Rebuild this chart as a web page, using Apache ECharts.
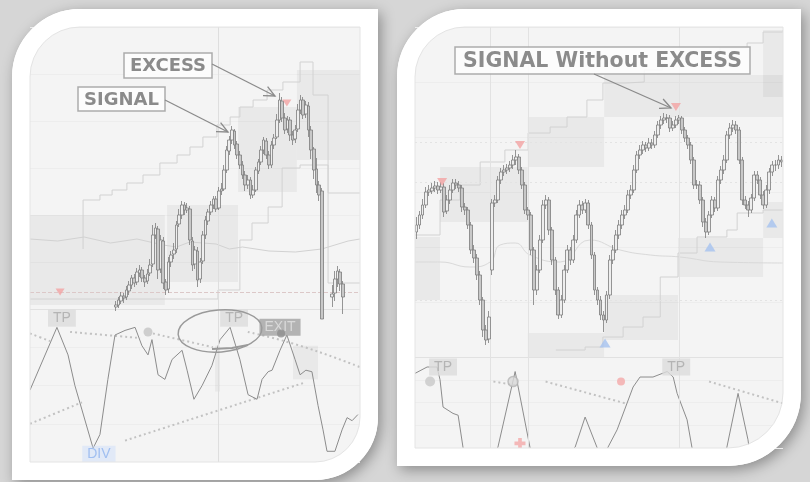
<!DOCTYPE html>
<html>
<head>
<meta charset="utf-8">
<title>SIGNAL / EXCESS</title>
<script src="https://cdn.jsdelivr.net/npm/echarts@6/dist/echarts.min.js"></script>
<style>
  html, body { margin: 0; padding: 0; background: #d6d6d6; }
  #main { width: 810px; height: 482px; }
</style>
</head>
<body>
<div id="main"></div>
<script>
// ---- left panel: price bars [open, close, low, high], x = bar index ----
const leftFirstBar = 32;
const leftCandles = [
  [2,4,-2,8],[4,9,1,12],[8,13,5,17],[13,11,6,16],[12,19,9,23],[18,24,14,28],[24,31,20,34],
  [31,26,22,35],[27,37,24,41],[36,39,32,44],[39,31,27,42],[31,27,22,34],[28,35,25,40],
  [36,44,33,50],[45,74,42,84],[74,81,70,86],[80,39,30,83],[40,69,36,74],[68,26,20,72],
  [27,19,14,30],[20,47,16,52],[47,54,42,58],
  [55,59,50,66],[60,84,56,88],[85,94,82,100],[94,104,90,108],[104,99,94,107],[99,101,96,106],
  [100,69,64,103],[68,44,38,72],[45,59,40,63],[58,29,22,62],[30,47,26,51],
  [48,74,45,78],[74,89,70,93],[88,97,84,100],
  [97,104,94,108],[104,110,100,113],[110,100,97,113],[101,118,99,122],[118,120,114,126],
  [120,139,118,144],[139,159,136,163],[158,169,154,173],[169,179,165,183],[178,164,160,180],[165,154,150,168],
  [154,144,140,158],[144,134,130,148],[134,124,118,138],[124,129,120,134],[129,114,110,132],
  [114,119,111,124],[119,139,117,142],[138,147,135,150],
  [147,159,144,163],[159,169,155,172],[168,154,150,171],[154,144,140,158],[144,164,141,168],[164,171,160,175],
  [172,189,170,195],[189,209,186,216],
  [208,191,187,212],[191,179,175,196],[180,189,176,193],[189,174,168,192],[174,169,164,178],[170,179,166,184],
  [180,199,177,205],[199,209,195,214],[209,194,190,212],[195,204,191,208],
  [203,179,172,207],[179,159,150,183],[160,139,130,162],[140,124,116,151],[124,114,108,128],
  [118,-10,-10,121]
];
const leftLateFirstBar = 114;
const leftLateCandles = [[12,15,2,24],[16,30,8,38],[30,38,22,43],[37,25,18,40],[25,12,-5,28]];

const leftUpperStep = [[19.6,60],[19.6,109],[26,114],[30.6,119],[36.2,126],[42.3,134],[48.7,146],[55.2,154],
  [60.1,162],[65,172],[70.3,184],[75.3,192],[79,202],[84,209],[89.3,219],[95.3,227],[101.8,247],
  [106.7,214],[112.4,116],[124.5,116]];
const leftLowerStep = [[-0.5,10],[48,10],[70.7,19],[79,69],[83.6,86],[89.7,102],[95,141],[101.8,144],
  [112.4,26],[124.5,26]];
const leftMidLine = [[-0.5,70],[10,68],[20,72],[30,66],[40,70],[50,64],[55,62],[60,67],[70,65],[75,60],
  [80,62],[90,58],[100,57],[110,60],[115,64],[120,68],[124.5,70]];
const leftBoxes = [
  [[-0.5,94],[50.6,4]], [[51.4,104],[78.3,27]], [[78.3,202],[100.6,117]], [[100.6,239],[124.5,149]]
];
const leftSellMarks = [[96.8,206],[10.9,17]];
const leftVLines = [70.7];

// ---- left panel oscillator ----
const leftOsc = [[-0.5,47],[9.7,88],[13.9,70],[16.5,50],[19.2,34],[23.4,9],[26,18],[29,54],[31.7,83],
  [35.5,86],[39.3,88],[41.9,76],[44.2,70],[45.7,80],[48,57],[50.6,54],[53.3,67],[57.1,73],[59,60],
  [61.6,41],[64.7,50],[68.4,63],[71.5,80],[75.3,88],[79,67],[82.1,44],[85.5,41],[87.4,54],[89.7,59],
  [91.2,60],[94.2,73],[96.8,83],[99.9,67],[101.8,57],[104,60],[106.3,59],[108.6,37],[110.5,21],
  [112,7],[115,7],[117.7,21],[119.6,29],[121.5,27],[123.7,31]];
const leftOscDotted = [
  [[-0.5,84],[7.1,79]], [[14.7,85],[41.2,81]], [[46.1,84],[68.8,75]], [[82,85],[101.8,76],[124.5,62]],
  [[-0.5,25],[19.2,39]], [[35.5,14],[103.7,52]]
];
const leftOscBoxes = [[[99.1,76],[108.6,54]], [[69.6,76],[71.5,46]]];
const leftOscGrayDots = [[44.2,85]];
const leftOscExitDots = [[94.6,84]];
const leftTpTags = [[11.6,94],[76.8,94]];
const leftExitTags = [[94.2,88]];
const leftDivTags = [[25.6,5]];

// ---- right panel: price bars ----
const rightCandles = [
  [125,132,118,140],[132,142,128,146],[142,152,138,158],[152,165,149,170],[165,167,161,172],[166,169,163,174],
  [169,171,165,176],[171,167,163,175],[167,170,164,175],[170,145,140,174],[146,157,143,162],[157,167,153,172],
  [167,174,164,178],[174,172,168,178],[172,169,165,176],[169,150,145,172],[150,147,142,154],[147,132,128,150],
  [132,107,103,135],[107,99,94,112],[99,82,77,103],[82,57,52,86],[57,27,20,60],[27,17,12,32],
  [18,40,14,46],[87,154,82,158],[154,157,150,162],[157,177,154,181],[177,185,173,189],[185,187,181,192],
  [187,189,183,193],[189,192,185,196],[192,197,188,202],[197,200,192,207],[200,187,183,203],[187,172,168,190],
  [172,147,143,175],[147,142,137,150],[142,107,102,145],[107,67,52,110],[67,87,62,92],[87,117,84,122],
  [117,152,114,157],[152,157,148,162],[157,127,122,160],[127,97,92,130],[97,67,62,100],[67,42,38,70],
  [42,57,39,62],[57,87,54,92],[87,107,84,112],[107,97,92,110],[97,117,94,122],[117,142,114,147],
  [142,152,139,157],[152,147,143,156],[147,154,144,158],[154,132,128,157],[132,102,98,135],[102,67,62,105],
  [67,57,52,70],[57,42,37,61],[42,37,25,46],[37,62,34,66],[62,97,58,102],[97,107,93,112],
  [107,122,104,127],[122,132,118,137],[132,142,128,147],[142,147,138,152],[147,162,144,167],[162,167,158,172],
  [167,187,164,192],[187,202,184,206],[202,207,198,212],[207,212,203,216],[212,209,205,215],[209,214,206,219],
  [214,212,208,218],[212,222,209,226],[222,232,219,236],[232,237,228,241],[237,239,233,244],[239,239,234,243],
  [239,229,225,242],[229,232,226,236],[232,237,229,241],[237,239,233,242],[239,227,223,241],[227,219,215,230],
  [219,212,208,222],[212,197,193,215],[197,172,168,200],[172,172,168,177],[172,157,153,176],[157,135,130,160],
  [135,125,119,139],[125,142,122,146],[142,157,139,161],[157,149,145,160],[149,177,146,181],[177,187,173,191],
  [187,197,183,202],[197,222,194,226],[222,229,218,234],[229,232,225,237],[232,227,223,236],[227,197,193,230],
  [197,157,152,200],[157,152,148,161],[152,147,140,156],[147,159,144,163],[159,182,156,186],[182,177,173,186],
  [177,162,158,180],[162,152,148,166],[152,167,149,172],[167,185,163,189],[185,192,181,196],[192,192,186,197],
  [192,197,188,202],[197,195,190,201]
];
const rightUpperStep = [[-0.5,122],[7.8,157],[14.4,172],[21.1,195],[29.3,207],[37,224],[44.3,230],[49.9,240],
  [56.5,257],[61.8,274],[69.5,275],[75.5,287],[81.5,299],[90.7,305],[100.6,309],[109.6,314],[114.9,325],[121.5,327]];
const rightLowerStep = [[46.2,7],[55.9,10],[61.8,20],[68.5,30],[75.1,40],[80.8,80],[86.7,104],[93,120],
  [102.9,127],[106.3,144],[114.9,147],[121.5,147]];
const rightMidLine = [[-0.5,95],[7.8,95],[17.7,90],[24.4,95],[27.7,112],[32.7,114],[37.6,102],[47.6,95],
  [57.5,117],[67.5,107],[77.5,102],[87.4,100],[100.7,95],[121.5,94]];
const rightBoxes = [
  [[-0.5,120],[7.8,57]], [[7.8,190],[36.9,135]], [[36.9,240],[62.2,190]], [[62.2,282],[121.5,240]],
  [[114.9,327],[121.5,260]], [[36.9,24],[62.2,0]], [[62.2,62],[86.7,17]], [[86.7,119],[114.9,80]],
  [[114.9,155],[121.5,119]]
];
const rightSellMarks = [[8.5,175],[34.3,212],[86,250]];
const rightBuyMarks = [[62.5,14],[97.3,110],[117.8,134]];
const rightVLines = [24.4, 37, 87.1];
const rightHLines = [215, 175, 57];

// ---- right panel oscillator ----
const rightOsc = [[-0.5,82],[3.5,89],[6.8,89],[7.8,75],[8.8,45],[12.1,38],[13.8,36],[15.4,1],[16.7,-24],
  [21.1,-35],[27,1],[32.7,84],[37.6,1],[41,-35],[52.6,1],[55.9,34],[59.8,1],[61.5,-13],[63.5,1],[66.5,20],
  [71.8,67],[74.1,78],[78.4,78],[83.1,84],[85.1,78],[86.4,60],[89.7,31],[91.3,1],[94,-35],[100.6,-35],
  [102.9,1],[106.6,60],[109.9,9],[111.2,-24],[121.5,-35]];
const rightOscDotted = [[[25.5,73],[33.2,69]], [[42.8,73],[69.3,49]], [[97,73],[121.5,49]]];
const rightOscGrayDots = [[4.5,73]];
const rightOscRingDots = [[32,73]];
const rightOscPinkDots = [[67.8,73]];
const rightOscCross = [[34.3,5]];
const rightTpTags = [[8.8,89],[86.1,89]];

// ---- layout ----
const panels = [
  { x: 30, y: 27, w: 330, h: 435, rTL: 50, rBR: 45 },
  { x: 415, y: 27, w: 368, h: 421, rTL: 50, rBR: 55 }
];

const chart = echarts.init(document.getElementById('main'));

const candleStyle = {
  color: '#eeeeee', color0: '#c8c8c8',
  borderColor: '#7c7c7c', borderColor0: '#7c7c7c', borderWidth: 0.8
};
const faint = '#d2d2d2';

function candles(data, first, xi, width) {
  return {
    type: 'candlestick', xAxisIndex: xi, yAxisIndex: xi, z: 5,
    data: data.map((d, i) => [first + i].concat(d)),
    encode: { x: 0, y: [1, 2, 3, 4] },
    barWidth: width, itemStyle: candleStyle, silent: true
  };
}
function line(data, xi, style, extra) {
  return Object.assign({
    type: 'line', xAxisIndex: xi, yAxisIndex: xi, data: data, symbol: 'none',
    lineStyle: style, silent: true, z: 3
  }, extra || {});
}
function boxes(list) {
  return {
    silent: true,
    itemStyle: { color: 'rgba(0,0,0,0.045)' },
    data: list.map(b => [{ coord: b[0] }, { coord: b[1] }])
  };
}
function marks(data, xi, symbol, size, color, rotate, z) {
  return {
    type: 'scatter', xAxisIndex: xi, yAxisIndex: xi, data: data, symbol: symbol,
    symbolSize: size, symbolRotate: rotate || 0, itemStyle: color, silent: true, z: z || 6
  };
}
function tags(data, xi, text, label) {
  return {
    type: 'scatter', xAxisIndex: xi, yAxisIndex: xi, data: data, symbolSize: 1,
    itemStyle: { color: 'rgba(0,0,0,0)' }, silent: true, z: 8,
    label: Object.assign({ show: true, position: 'inside', formatter: text,
      fontFamily: 'Liberation Sans', fontSize: 14, padding: [2, 5, 1, 5] }, label)
  };
}
function vlines(list, color) {
  return { silent: true, symbol: 'none', label: { show: false },
    lineStyle: { color: color, type: 'solid', width: 1 }, data: list.map(v => ({ xAxis: v })) };
}

const hiddenX = (grid, max, sep) => ({
  gridIndex: grid, type: 'value', min: -0.5, max: max,
  axisLabel: { show: false }, axisTick: { show: false }, splitLine: { show: false },
  axisLine: { show: sep, onZero: false, lineStyle: { color: '#e1e1e1' } }
});
const hiddenY = (grid, min, max, step) => ({
  gridIndex: grid, type: 'value', min: min, max: max, interval: step,
  axisLabel: { show: false }, axisTick: { show: false }, axisLine: { show: false },
  splitLine: { show: true, lineStyle: { color: '#ededed' } }
});

// frames, corner masks and hand-drawn notes
const graphics = [];
panels.forEach(p => {
  graphics.push({
    type: 'rect', z: -20, silent: true,
    shape: { x: p.x - 18, y: p.y - 18, width: p.w + 36, height: p.h + 36, r: [p.rTL + 18, 0, p.rBR + 18, 0] },
    style: { fill: '#ffffff', shadowBlur: 14, shadowColor: 'rgba(0,0,0,0.35)', shadowOffsetX: 3, shadowOffsetY: 4 }
  });
  graphics.push({
    type: 'rect', z: -10, silent: true,
    shape: { x: p.x, y: p.y, width: p.w, height: p.h, r: [p.rTL, 0, p.rBR, 0] },
    style: { fill: '#f4f4f4' }
  });
  graphics.push({
    type: 'rect', z: 50, silent: true,
    shape: { x: p.x - 9, y: p.y - 9, width: p.w + 18, height: p.h + 18, r: [p.rTL + 9, 0, p.rBR + 9, 0] },
    style: { fill: 'none', stroke: '#ffffff', lineWidth: 18 }
  });
  graphics.push({
    type: 'rect', z: 51, silent: true,
    shape: { x: p.x, y: p.y, width: p.w, height: p.h, r: [p.rTL, 0, p.rBR, 0] },
    style: { fill: 'none', stroke: '#e4e4e4', lineWidth: 1 }
  });
});

function note(x, y, w, h, text, size) {
  graphics.push({
    type: 'rect', z: 60, silent: true, shape: { x: x, y: y, width: w, height: h },
    style: { fill: 'rgba(252,252,252,0.92)', stroke: '#acacac', lineWidth: 1.5 }
  });
  graphics.push({
    type: 'text', z: 61, silent: true, x: x + w / 2, y: y + h / 2 + 1,
    style: { text: text, font: 'bold ' + size + 'px "DejaVu Sans"', fill: '#8b8b8b',
      align: 'center', verticalAlign: 'middle', textAlign: 'center', textVerticalAlign: 'middle' }
  });
}
function arrow(pts) {
  graphics.push({ type: 'polyline', z: 60, silent: true, shape: { points: pts },
    style: { fill: 'none', stroke: '#8a8a8a', lineWidth: 1.3 } });
}
note(124, 53, 88, 25, 'EXCESS', 18);
note(78, 87, 87, 24, 'SIGNAL', 18);
note(455, 47, 295, 27, 'SIGNAL Without EXCESS', 20.5);
arrow([[212, 64], [275, 96]]);
arrow([[267.6, 86.6], [275, 96], [263, 95.6]]);
arrow([[165, 100], [228, 132]]);
arrow([[220.6, 122.6], [228, 132], [216, 131.6]]);
arrow([[594, 74], [671, 108]]);
arrow([[663.1, 99], [671, 108], [659, 108.3]]);
// hand-drawn circle around the second TP
graphics.push({ type: 'ellipse', z: 40, silent: true, x: 220, y: 331, rotation: 0.08,
  shape: { cx: 0, cy: 0, rx: 42, ry: 21 }, style: { fill: 'none', stroke: '#9a9a9a', lineWidth: 1.4 } });
graphics.push({ type: 'polyline', z: 40, silent: true,
  shape: { points: [[212, 349], [232, 348], [248, 345]] }, style: { fill: 'none', stroke: '#9a9a9a', lineWidth: 2 } });

const series = [
  // left price
  line(leftMidLine, 0, { color: faint, width: 1 }, { z: 1, markArea: boxes(leftBoxes) }),
  line(leftUpperStep, 0, { color: faint, width: 1 }, { step: 'end',
    markLine: vlines(leftVLines, '#dedede') }),
  line(leftLowerStep, 0, { color: faint, width: 1 }, { step: 'end',
    markLine: { silent: true, symbol: 'none', label: { show: false },
      lineStyle: { color: '#dcc8c8', type: 'dashed', width: 1 }, data: [{ yAxis: 17 }] } }),
  candles(leftCandles, leftFirstBar, 0, 3.2),
  candles(leftLateCandles, leftLateFirstBar, 0, 3.2),
  marks(leftSellMarks, 0, 'triangle', [9, 7], { color: '#f2a3a3', opacity: 0.8 }, 180),
  // left oscillator
  line(leftOsc, 1, { color: '#8c8c8c', width: 1 }, { z: 4, markArea: boxes(leftOscBoxes),
    markLine: vlines(leftVLines, '#dedede') }),
  ...leftOscDotted.map(seg => line(seg, 1, { color: '#c2c2c2', width: 2, type: [2, 3] }, { smooth: true })),
  marks(leftOscGrayDots, 1, 'circle', 9, { color: '#c4c4c4' }),
  marks(leftOscExitDots, 1, 'circle', 8, { color: '#8e8e8e' }, 0, 9),
  tags(leftTpTags, 1, 'TP', { color: '#a9a9a9', backgroundColor: '#dcdcdc' }),
  tags(leftExitTags, 1, 'EXIT', { color: '#e2e2e2', backgroundColor: '#a2a2a2' }),
  tags(leftDivTags, 1, 'DIV', { color: '#90b4ef', backgroundColor: 'rgba(205,222,250,0.6)' }),
  // right price
  line(rightMidLine, 2, { color: '#d9d9d9', width: 1 }, { z: 1, smooth: true, markArea: boxes(rightBoxes),
    markLine: { silent: true, symbol: 'none', label: { show: false },
      lineStyle: { color: '#e3e3e3', type: [2, 3], width: 1 }, data: rightHLines.map(v => ({ yAxis: v })) } }),
  line(rightUpperStep, 2, { color: faint, width: 1 }, { step: 'end', markLine: vlines(rightVLines, '#e2e2e2') }),
  line(rightLowerStep, 2, { color: faint, width: 1 }, { step: 'end' }),
  candles(rightCandles, 0, 2, 3.4),
  marks(rightSellMarks, 2, 'triangle', [10, 8], { color: '#f2a3a3', opacity: 0.8 }, 180),
  marks(rightBuyMarks, 2, 'triangle', [11, 9], { color: '#a9c4ee', opacity: 0.85 }),
  // right oscillator
  line(rightOsc, 3, { color: '#8c8c8c', width: 1 }, { z: 4, markLine: vlines(rightVLines, '#e2e2e2') }),
  ...rightOscDotted.map(seg => line(seg, 3, { color: '#c2c2c2', width: 2, type: [2, 3] })),
  marks(rightOscGrayDots, 3, 'circle', 10, { color: '#c8c8c8' }),
  marks(rightOscRingDots, 3, 'circle', 10, { color: '#d8d8d8', borderColor: '#b5b5b5', borderWidth: 1.5 }),
  marks(rightOscPinkDots, 3, 'circle', 8, { color: '#f4a9a9' }),
  marks(rightOscCross, 3, 'path://M4,0h4v4h4v4h-4v4h-4v-4h-4v-4h4z', 11, { color: '#f4a9a9' }),
  tags(rightTpTags, 3, 'TP', { color: '#a9a9a9', backgroundColor: '#dcdcdc' })
];

chart.setOption({
  backgroundColor: '#d6d6d6',
  animation: false,
  grid: [
    { left: 30, top: 27, width: 330, height: 282 },
    { left: 30, top: 309, width: 330, height: 153 },
    { left: 415, top: 27, width: 368, height: 330 },
    { left: 415, top: 357, width: 368, height: 91 }
  ],
  xAxis: [
    hiddenX(0, 124.5, true), hiddenX(1, 124.5, false),
    hiddenX(2, rightCandles.length - 0.5, true), hiddenX(3, rightCandles.length - 0.5, false)
  ],
  yAxis: [
    hiddenY(0, 0, 282, 47), hiddenY(1, 0, 100, 25),
    hiddenY(2, 0, 330, 55), hiddenY(3, 0, 100, 25)
  ],
  graphic: { elements: graphics },
  series: series
});
</script>
</body>
</html>
